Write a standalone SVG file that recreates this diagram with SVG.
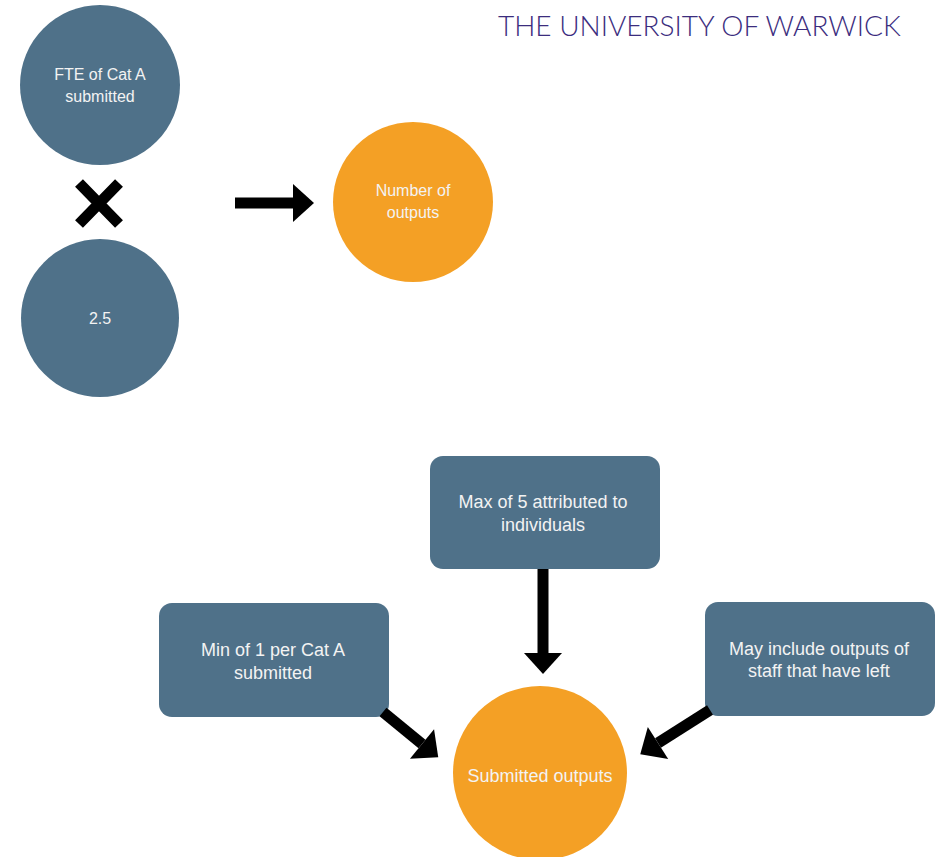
<svg xmlns="http://www.w3.org/2000/svg" width="935" height="857" viewBox="0 0 935 857">
<defs>
<style>
.blue{fill:#4f7189}
.orange{fill:#f4a025}
.t{font-family:"Liberation Sans",Arial,sans-serif;font-size:18px;fill:#f3f3f3;text-anchor:middle}
.c{font-size:16px}
.title{font-family:Lato,"Open Sans",sans-serif;font-size:28px;fill:#3b2d7e;font-weight:300}
.shaft{stroke:#000;stroke-width:11;fill:none}
</style>
<marker id="ah" markerUnits="userSpaceOnUse" markerWidth="22" markerHeight="40" refX="0" refY="20" orient="auto" viewBox="0 0 22 40" overflow="visible">
<path d="M0,1 L21,20 L0,39 Z" fill="#000"/>
</marker>
</defs>
<rect width="935" height="857" fill="#fff"/>
<text class="title" x="498" y="36">THE UNIVERSITY OF WARWICK</text>

<g id="fte">
<circle class="blue" cx="100" cy="85" r="80"/>
<text class="t c" x="100" y="80">FTE of Cat A</text>
<text class="t c" x="100" y="102">submitted</text>
</g>
<g id="times">
<path d="M79,183 L119,224 M119,183 L79,224" stroke="#000" stroke-width="11"/>
</g>
<g id="factor">
<circle class="blue" cx="100" cy="318" r="79"/>
<text class="t c" x="100" y="324">2.5</text>
</g>
<g id="number">
<circle class="orange" cx="413" cy="202" r="80"/>
<text class="t c" x="413" y="196">Number of</text>
<text class="t c" x="413" y="218">outputs</text>
</g>

<g id="max">
<rect class="blue" x="430" y="456" width="230" height="113" rx="13"/>
<text class="t" x="543" y="508">Max of 5 attributed to</text>
<text class="t" x="543" y="531">individuals</text>
</g>
<g id="min">
<rect class="blue" x="159" y="603" width="230" height="114" rx="13"/>
<text class="t" x="273" y="656">Min of 1 per Cat A</text>
<text class="t" x="273" y="679">submitted</text>
</g>
<g id="left">
<rect class="blue" x="705" y="602" width="230" height="114" rx="13"/>
<text class="t" x="819" y="655">May include outputs of</text>
<text class="t" x="819" y="677">staff that have left</text>
</g>
<g id="submitted">
<circle class="orange" cx="540" cy="773" r="87"/>
<text class="t" x="540" y="782">Submitted outputs</text>
</g>

<g id="connectors">
<path class="shaft" d="M235,203 L293,203" marker-end="url(#ah)"/>
<path class="shaft" d="M543,569 L543,653" marker-end="url(#ah)"/>
<path class="shaft" d="M383,712 L422,744" marker-end="url(#ah)"/>
<path class="shaft" d="M710,710 L658,743" marker-end="url(#ah)"/>
</g>
</svg>
